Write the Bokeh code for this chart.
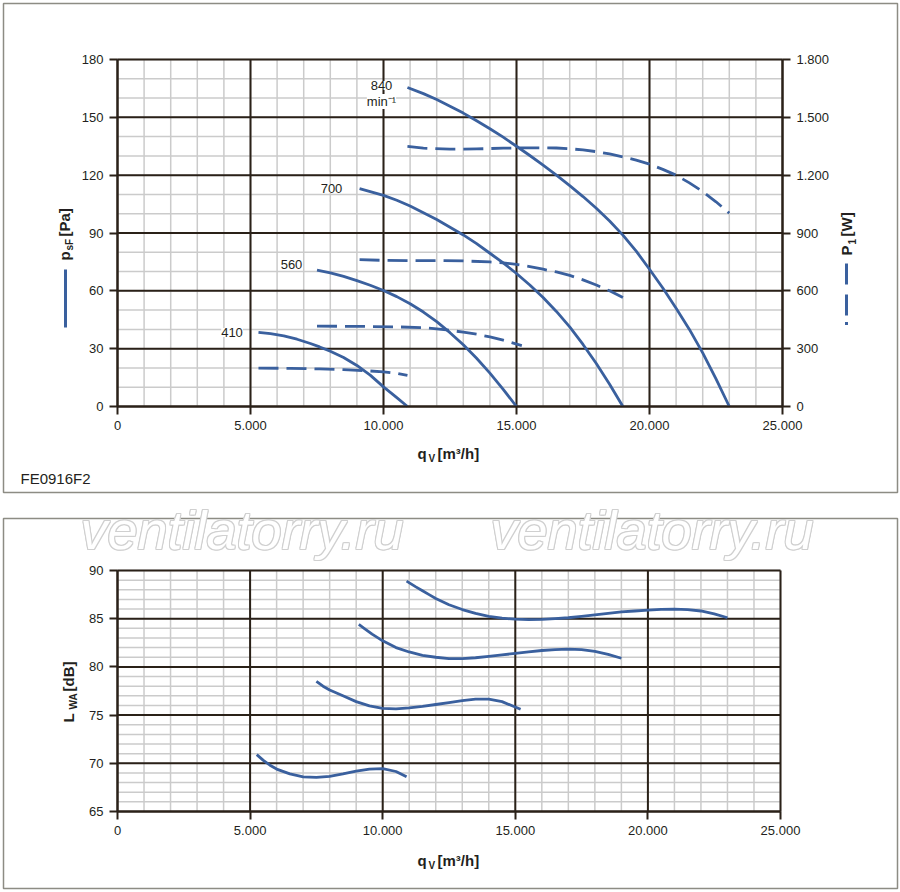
import numpy as np
from bokeh.plotting import figure
from bokeh.models import Range1d, LinearAxis, FixedTicker, Label
from bokeh.embed import file_html
from bokeh.resources import INLINE

# --- axis ticks and labels ---
flow_ticks = [0, 5000, 10000, 15000, 20000, 25000]
flow_labels = ["0", "5.000", "10.000", "15.000", "20.000", "25.000"]
flow_minor = list(range(0, 25001, 1000))
pa_ticks = [0, 30, 60, 90, 120, 150, 180]
pa_minor = list(range(0, 181, 10))
w_ticks = [0, 300, 600, 900, 1200, 1500, 1800]
w_labels = ["0", "300", "600", "900", "1.200", "1.500", "1.800"]
db_ticks = [65, 70, 75, 80, 85, 90]
db_minor = list(range(65, 91, 1))

# --- static pressure psF [Pa] per speed (410, 560, 700, 840 min-1) ---
q_ps_410 = [5300, 5750, 6250, 6750, 7250, 7600, 8000, 8500, 9000, 9500, 10000, 10500, 10900]
ps_410 = [38.5, 37.8, 36.6, 34.9, 32.7, 30.9, 28.7, 25.4, 21.3, 16.3, 10.2, 4.6, 0]
q_ps_560 = [7500, 8000, 8500, 9000, 9500, 10000, 10500, 11000, 11500, 12000, 12500, 13000, 13500, 14000, 14500, 15000]
ps_560 = [70.7, 69.3, 67.5, 65.3, 62.9, 60.2, 57, 53.3, 49, 44, 38.3, 32, 25, 17.3, 8.9, 0]
q_ps_700 = [9100, 9500, 10000, 10500, 11000, 11500, 12000, 12500, 13000, 13500, 14000, 14500,
            15000, 15500, 16000, 16500, 17000, 17500, 18000, 18500, 19000]
ps_700 = [113, 111.5, 109.5, 107, 104, 100.5, 97, 93, 89, 84.5, 79.5, 74.5,
          69, 63, 56.5, 49.3, 41.3, 32.2, 22.3, 11.5, 0]
q_ps_840 = [10900, 11500, 12000, 12500, 13000, 13500, 14000, 14500, 15000, 15500, 16000, 16500, 17000,
            17500, 18000, 18500, 19000, 19500, 20000, 20500, 21000, 21500, 22000, 22500, 23000]
ps_840 = [165.5, 162.3, 159.2, 155.8, 152.2, 148.2, 144.1, 139.7, 135, 130.2, 125.2, 120, 114.6,
          108.9, 102.8, 96.2, 88.9, 80.6, 71.2, 61.5, 51, 40, 27.8, 14.3, 0]

# --- power input P1 [W] per speed ---
q_pw_410 = [5300, 6500, 7600, 8500, 9300, 10000, 10500, 10900]
pw_410 = [199, 198, 195, 191, 186, 180, 172, 161]
q_pw_560 = [7500, 8500, 9500, 10500, 11500, 12000, 12500, 13000, 13500, 14000, 14500, 15200]
pw_560 = [417, 416, 415, 413, 409, 403, 395, 386, 375, 361, 344, 316]
q_pw_700 = [9100, 10000, 11000, 12000, 13000, 14000, 14500, 15000, 15500, 16000, 16500, 17000, 17500, 18000, 18500, 19000]
pw_700 = [762, 758, 757, 757, 755, 750, 745, 737, 726, 712, 698, 680, 657, 630, 600, 565]
q_pw_840 = [10900, 11500, 12500, 13500, 14500, 15500, 16500, 17000, 17500, 18000, 18500, 19000,
            19500, 20000, 20500, 21000, 21500, 22000, 22500, 23000]
pw_840 = [1349, 1340, 1335, 1336, 1340, 1342, 1341, 1337, 1331, 1322, 1310, 1295,
          1278, 1257, 1230, 1200, 1160, 1115, 1062, 1003]

# --- sound power LwA [dB] per speed ---
q_lw_410 = [5250, 5500, 5750, 6000, 6500, 7000, 7500, 8000, 8500, 9000, 9500, 10000, 10500, 10900]
lw_410 = [70.9, 70.3, 69.8, 69.4, 68.9, 68.6, 68.55, 68.65, 68.9, 69.2, 69.4, 69.45, 69.15, 68.6]
q_lw_560 = [7500, 7750, 8000, 8500, 9000, 9500, 10000, 10500, 11000, 11500, 12000, 12500, 13000, 13500, 14000, 14500, 15200]
lw_560 = [78.5, 78.0, 77.6, 77.0, 76.4, 75.95, 75.7, 75.65, 75.75, 75.9, 76.1, 76.3, 76.5, 76.65, 76.65, 76.4, 75.6]
q_lw_700 = [9100, 9300, 9600, 10000, 10500, 11000, 11500, 12000, 12500, 13000, 13500, 14000, 14500,
            15000, 15500, 16000, 16500, 17000, 17500, 18000, 18500, 19000]
lw_700 = [84.4, 84.0, 83.4, 82.7, 82.0, 81.55, 81.2, 81.0, 80.85, 80.85, 80.95, 81.1, 81.25,
          81.4, 81.55, 81.7, 81.8, 81.85, 81.8, 81.6, 81.3, 80.9]
q_lw_840 = [10900, 11250, 11500, 11750, 12000, 12500, 13000, 13500, 14000, 14500, 15000, 15500, 16000, 16500,
            17000, 17500, 18000, 18500, 19000, 19500, 20000, 20500, 21000, 21500, 22000, 22500, 23000]
lw_840 = [88.9, 88.3, 87.9, 87.5, 87.1, 86.45, 85.95, 85.55, 85.25, 85.05, 84.95, 84.9, 84.92, 85.0,
          85.1, 85.25, 85.4, 85.55, 85.7, 85.8, 85.9, 85.97, 86.0, 85.95, 85.8, 85.5, 85.1]

BLUE = "#3a609e"
DARK = "#2a2118"
MINOR = "#cbcbcb"
TEXT = "#231f20"
BOX = "#8d8c84"
FONT = "Liberation Sans"
W, H = 900, 892


# page pixel <-> data for the two chart frames (top: 117..782 x 59..406, bottom: 117..780 x 570..811)
def fx(px):
    return (px - 117) * 25000 / 665


def fx2(px):
    return (px - 117) * 25000 / 663


def pa(py):
    return (406 - py) * 180 / 347


def db(py):
    return 65 + (811 - py) * 25 / 241


p = figure(width=W, height=H, x_range=Range1d(fx(0), fx(W)), y_range=Range1d(pa(H), pa(0)),
           x_axis_type=None, y_axis_type=None, output_backend="svg", toolbar_location=None,
           min_border=0, min_border_left=0, min_border_right=0, min_border_top=0, min_border_bottom=0)
p.outline_line_color = None
p.background_fill_color = "white"
p.border_fill_color = "white"
p.extra_x_ranges = {"flow2": Range1d(fx2(0), fx2(W)), "px": Range1d(0, W)}
p.extra_y_ranges = {"w": Range1d(pa(H) * 10, pa(0) * 10), "db": Range1d(db(H), db(0)), "py": Range1d(H, 0)}


def axis(side, ticks, labels=None, **kw):
    ax = LinearAxis(ticker=FixedTicker(ticks=ticks), axis_label=None, **kw)
    if labels:
        ax.major_label_overrides = dict(zip(ticks, labels))
    ax.axis_line_color = DARK
    ax.axis_line_width = 2
    ax.major_tick_line_color = DARK
    ax.major_tick_line_width = 2
    ax.major_tick_out = 8
    ax.major_tick_in = 0
    ax.minor_tick_line_color = None
    ax.major_label_text_font = FONT
    ax.major_label_text_font_size = "13px"
    ax.major_label_text_color = TEXT
    ax.major_label_standoff = 6
    p.add_layout(ax, side)


def grid(xs, ys, x0, x1, y0, y1, color, width, xr="default", yr="default"):
    p.segment(x0=xs, y0=[y0] * len(xs), x1=xs, y1=[y1] * len(xs), line_color=color,
              line_width=width, x_range_name=xr, y_range_name=yr)
    p.segment(x0=[x0] * len(ys), y0=ys, x1=[x1] * len(ys), y1=ys, line_color=color,
              line_width=width, x_range_name=xr, y_range_name=yr)


def label(x, y, s, size="13px", bold=False, italic=False, angle=0, align="center",
          baseline="middle", color=TEXT, bg=None, xo=0, yo=0):
    st = "bold" if bold else ("italic" if italic else "normal")
    p.add_layout(Label(x=x, y=y, text=s, x_range_name="px", y_range_name="py",
                       text_font=FONT, text_font_size=size, text_font_style=st, angle=angle,
                       text_align=align, text_baseline=baseline, text_color=color,
                       background_fill_color=bg, x_offset=xo, y_offset=yo))


def key(segments, width=3):
    for (xa, ya, xb, yb) in segments:
        p.line([xa, xb], [ya, yb], line_color=BLUE, line_width=width,
               x_range_name="px", y_range_name="py")


# outer boxes
p.quad(left=[3, 3], right=[897, 897], top=[3, 518], bottom=[492, 888], fill_color=None,
       line_color=BOX, line_width=1.5, x_range_name="px", y_range_name="py")

# ---------------- top chart: pressure + power ----------------
grid(flow_minor, pa_minor, 0, 25000, 0, 180, MINOR, 1.5)
grid(flow_ticks, pa_ticks, 0, 25000, 0, 180, DARK, 2)
axis("below", flow_ticks, flow_labels, fixed_location=0, bounds=(0, 25000))
axis("left", pa_ticks, fixed_location=0, bounds=(0, 180))
axis("right", w_ticks, w_labels, fixed_location=25000, bounds=(0, 1800), y_range_name="w")

for q, v in [(q_ps_410, ps_410), (q_ps_560, ps_560), (q_ps_700, ps_700), (q_ps_840, ps_840)]:
    p.line(q, v, line_color=BLUE, line_width=2.8, line_join="round")
for q, v in [(q_pw_410, pw_410), (q_pw_560, pw_560), (q_pw_700, pw_700), (q_pw_840, pw_840)]:
    p.line(q, v, line_color=BLUE, line_width=2.8, line_dash="20 8", line_join="round", y_range_name="w")

label(381, 85, "840", bg="white")
label(381, 101, "min\u207b\u00b9", bg="white")
label(331, 188, "700", bg="white")
label(291, 264, "560", bg="white")
label(231.5, 332, "410", bg="white")

# left title p_sF [Pa] with solid key
label(64, 260, "p", size="15px", bold=True, angle=np.pi / 2, align="left")
label(69, 250, "sF", size="10px", bold=True, angle=np.pi / 2, align="left")
label(64, 236, "[Pa]", size="15px", bold=True, angle=np.pi / 2, align="left")
key([(65, 269, 65, 327)])

# right title P_1 [W] with dashed key
label(846, 255, "P", size="15px", bold=True, angle=np.pi / 2, align="left")
label(851, 244, "1", size="10px", bold=True, angle=np.pi / 2, align="left")
label(846, 236, "[W]", size="15px", bold=True, angle=np.pi / 2, align="left")
key([(846, 263, 846, 284), (846, 294, 846, 315), (846, 321.5, 846, 324.5)])

label(417, 453, "q", size="15px", bold=True, align="left")
label(428, 458, "V", size="10px", bold=True, align="left")
label(437, 453, "[m\u00b3/h]", size="15px", bold=True, align="left")

label(20, 478, "FE0916F2", size="15px", align="left")

# watermark (outlined text)
for x0 in (80, 490):
    for dx, dy in [(-1, 0), (1, 0), (0, -1), (0, 1), (-1, -1), (1, 1), (-1, 1), (1, -1)]:
        label(x0, 529, "ventilatorry.ru", size="54px", italic=True, align="left",
              baseline="alphabetic", color="#d0d0d0", xo=dx, yo=dy)
    label(x0, 529, "ventilatorry.ru", size="54px", italic=True, align="left",
          baseline="alphabetic", color="white")

# ---------------- bottom chart: sound power ----------------
grid(flow_minor, db_minor, 0, 25000, 65, 90, MINOR, 1.5, xr="flow2", yr="db")
grid(flow_ticks, db_ticks, 0, 25000, 65, 90, DARK, 2, xr="flow2", yr="db")
axis("below", flow_ticks, flow_labels, fixed_location=65, bounds=(0, 25000),
     x_range_name="flow2", y_range_name="db")
axis("left", db_ticks, fixed_location=0, bounds=(65, 90), x_range_name="flow2", y_range_name="db")

for q, v in [(q_lw_410, lw_410), (q_lw_560, lw_560), (q_lw_700, lw_700), (q_lw_840, lw_840)]:
    p.line(q, v, line_color=BLUE, line_width=2.8, line_join="round", x_range_name="flow2", y_range_name="db")

label(68, 722, "L", size="15px", bold=True, angle=np.pi / 2, align="left")
label(73, 709, "WA", size="10px", bold=True, angle=np.pi / 2, align="left")
label(68, 691, "[dB]", size="15px", bold=True, angle=np.pi / 2, align="left")

label(417, 860, "q", size="15px", bold=True, align="left")
label(428, 865, "V", size="10px", bold=True, align="left")
label(437, 860, "[m\u00b3/h]", size="15px", bold=True, align="left")

open("out.html", "w").write(file_html(p, INLINE))
